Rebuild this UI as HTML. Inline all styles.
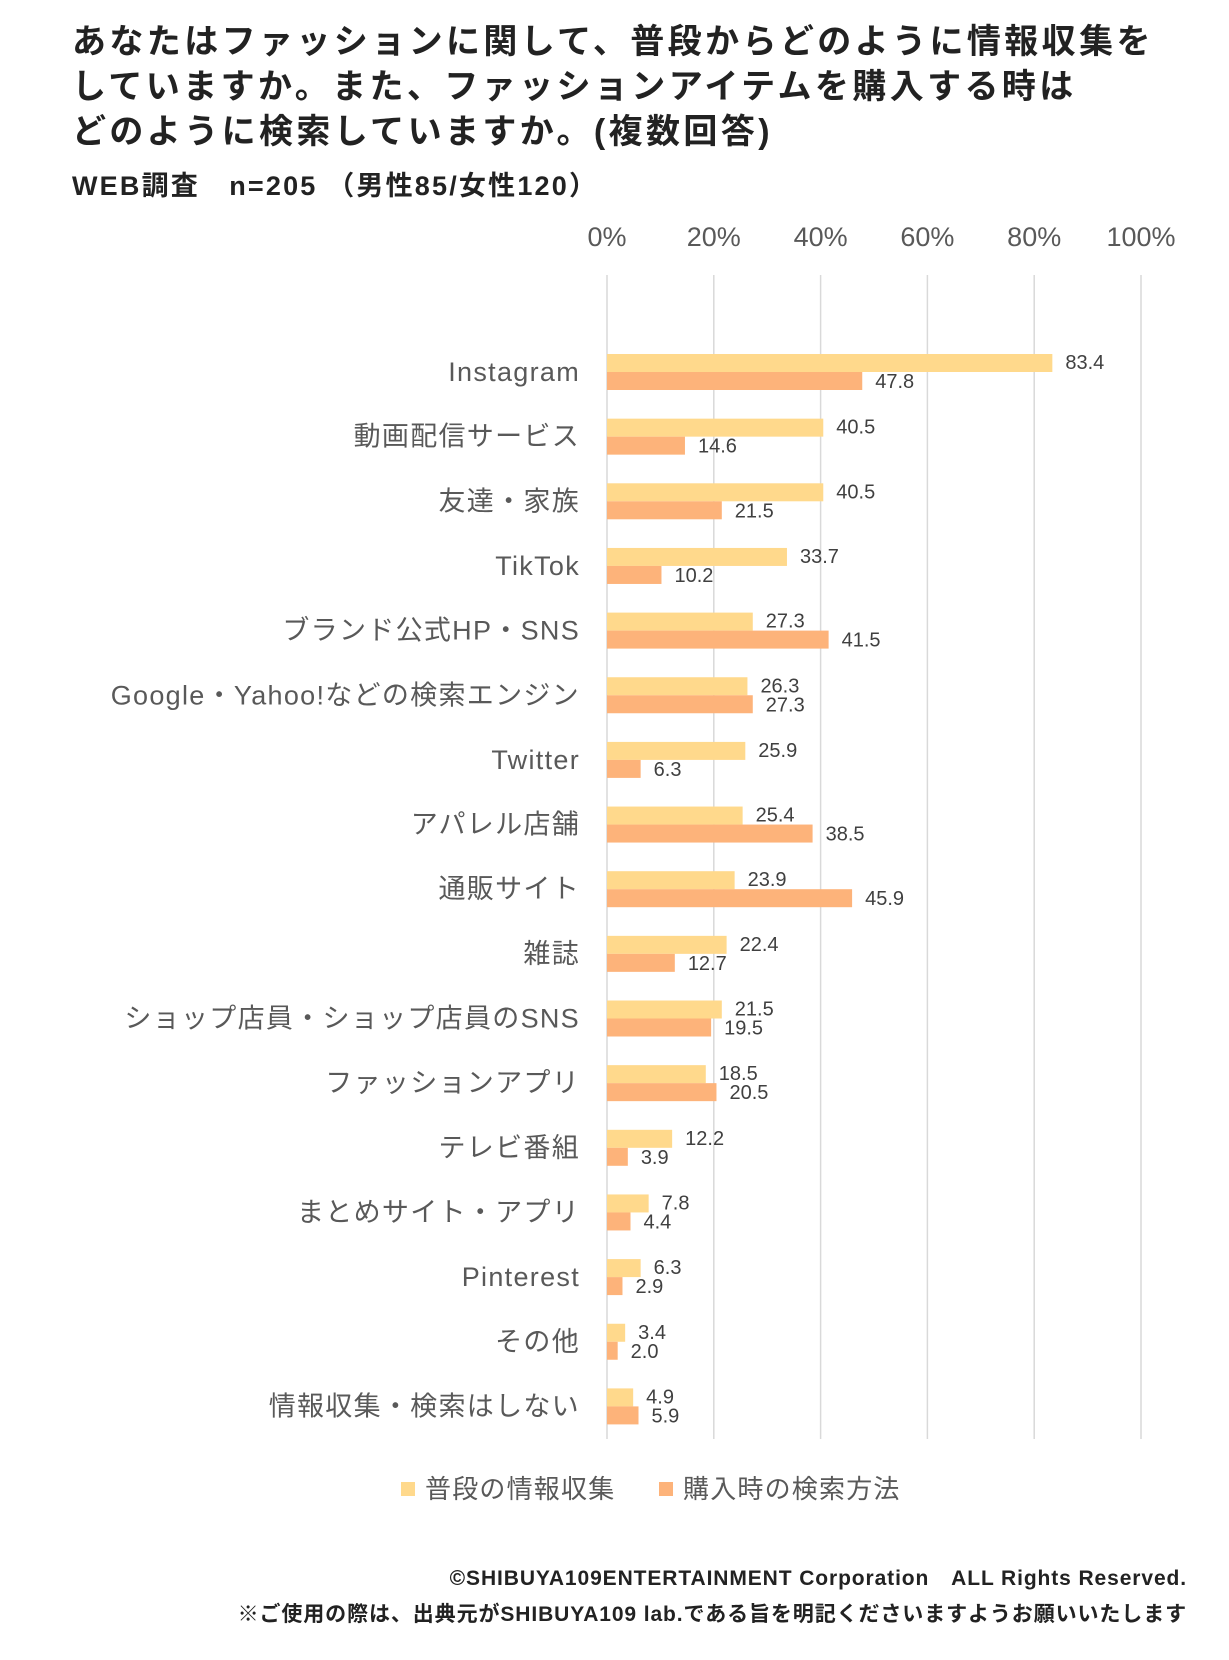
<!DOCTYPE html>
<html><head><meta charset="utf-8">
<style>
body{margin:0;background:#fff;width:1229px;height:1660px;overflow:hidden;font-family:"Liberation Sans","Noto Sans CJK JP",sans-serif;}
.title{position:absolute;left:72px;top:20px;font-size:34px;font-weight:bold;line-height:45px;color:#222;letter-spacing:3.4px;}
.sub{position:absolute;left:72px;top:164px;font-size:27px;font-weight:bold;color:#222;letter-spacing:2.2px;}
.foot{position:absolute;right:42px;font-size:21px;font-weight:bold;color:#222;}
</style></head><body>
<div class="title">あなたはファッションに関して、普段からどのように情報収集を<br>していますか。また、ファッションアイテムを購入する時は<br>どのように検索していますか。(複数回答)</div>
<div class="sub">WEB調査　n=205 （男性85/女性120）</div>
<svg id="chart" width="1229" height="1660" style="position:absolute;left:0;top:0"></svg>
<div class="foot" style="top:1562px;letter-spacing:0.9px">©SHIBUYA109ENTERTAINMENT Corporation　ALL Rights Reserved.</div>
<div class="foot" style="top:1598px;letter-spacing:0.9px">※ご使用の際は、出典元がSHIBUYA109 lab.である旨を明記くださいますようお願いいたします</div>
<script>
const categories=["Instagram","動画配信サービス","友達・家族","TikTok","ブランド公式HP・SNS","Google・Yahoo!などの検索エンジン","Twitter","アパレル店舗","通販サイト","雑誌","ショップ店員・ショップ店員のSNS","ファッションアプリ","テレビ番組","まとめサイト・アプリ","Pinterest","その他","情報収集・検索はしない"];
const everyday=[83.4,40.5,40.5,33.7,27.3,26.3,25.9,25.4,23.9,22.4,21.5,18.5,12.2,7.8,6.3,3.4,4.9];
const purchase=[47.8,14.6,21.5,10.2,41.5,27.3,6.3,38.5,45.9,12.7,19.5,20.5,3.9,4.4,2.9,2.0,5.9];
const ticks=[0,20,40,60,80,100];
const seriesNames=["普段の情報収集","購入時の検索方法"];
const svg=document.getElementById('chart');const NS='http://www.w3.org/2000/svg';
const x0=607,x1=1141,yTop=275,yBot=1439,yFirst=372,step=64.65,bh=18;
const xs=v=>x0+(x1-x0)*v/100;const yc=i=>yFirst+i*step;
function mk(t,a,txt){const e=document.createElementNS(NS,t);for(const k in a)e.setAttribute(k,a[k]);if(txt!=null)e.textContent=txt;svg.appendChild(e);return e;}
ticks.forEach(t=>{
 const g=mk('line',{x1:xs(t),x2:xs(t),y1:yTop,y2:yBot,stroke:'#d9d9d9','stroke-width':1.5});
 
 
 const l=mk('text',{x:xs(t),y:246,'text-anchor':'middle','font-size':27,fill:'#595959'},t+'%');
 
 
});
categories.forEach((c,i)=>{
 const y=yc(i);
 const l=mk('text',{x:580,y:y+9,'text-anchor':'end','font-size':27,fill:'#595959','letter-spacing':1.3},c);
 
 
 const b1=mk('rect',{x:x0,y:y-bh,width:xs(everyday[i])-x0,height:bh,fill:'#FFD98C'});
 
 
 const b2=mk('rect',{x:x0,y:y,width:xs(purchase[i])-x0,height:bh,fill:'#FDB37A'});
 
 
 const v1=mk('text',{x:xs(everyday[i])+13,y:y-3,'font-size':20,fill:'#404040'},everyday[i].toFixed(1));
 
 
 const v2=mk('text',{x:xs(purchase[i])+13,y:y+16,'font-size':20,fill:'#404040'},purchase[i].toFixed(1));
 
 
});
const lx=[401,659],lc=['#FFD98C','#FDB37A'];
seriesNames.forEach((n,i)=>{
 const r=mk('rect',{x:lx[i],y:1482,width:14,height:14,fill:lc[i]});
 
 
 const t=mk('text',{x:lx[i]+24,y:1498,'font-size':26,fill:'#595959','letter-spacing':1.2},n);
 
 
});
</script>
</body></html>
